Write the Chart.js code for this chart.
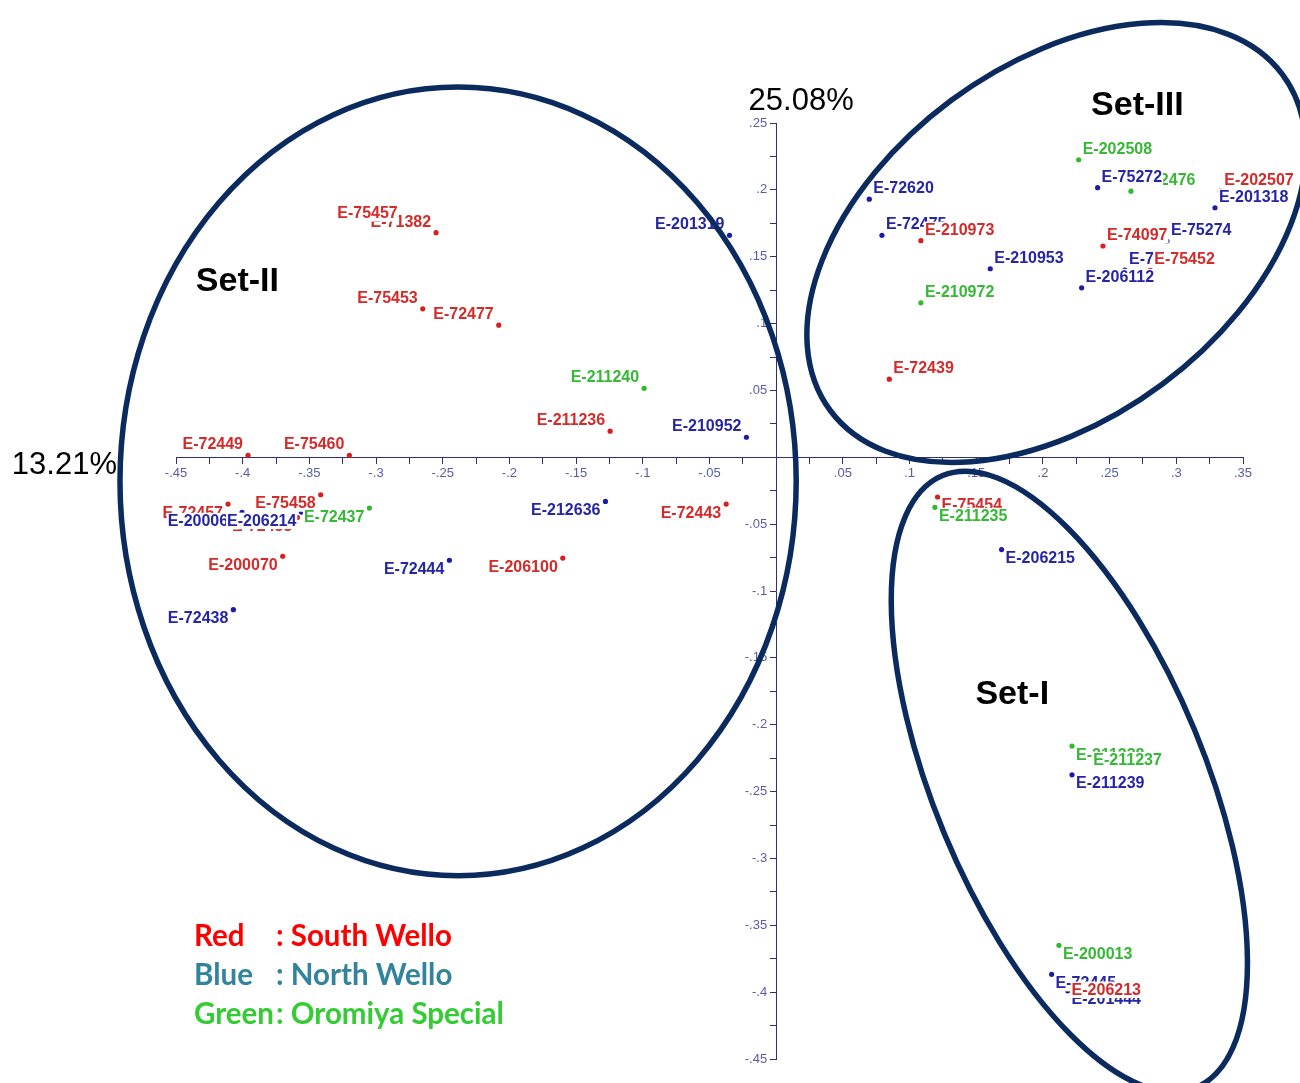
<!DOCTYPE html>
<html>
<head>
<meta charset="utf-8">
<title>Principal coordinate analysis of sorghum accessions</title>
<script src="https://cdn.jsdelivr.net/npm/chart.js@4.4.1/dist/chart.umd.min.js"></script>
<style>
  html, body { margin: 0; padding: 0; background: #ffffff; }
  #wrap { position: relative; width: 1300px; height: 1083px; }
</style>
</head>
<body>
<div id="wrap"><canvas id="pcoa"></canvas></div>
<script>
// ---- Data -------------------------------------------------------------
// Accession codes, in drawing order (later labels sit on top of earlier ones)
const accessions = [
  'E-72449', 'E-75460', 'E-71382', 'E-75457', 'E-75453', 'E-72477',
  'E-211240', 'E-211236', 'E-210952', 'E-201319',
  'E-72457', 'E-72433', 'E-200066', 'E-206214', 'E-75458', 'E-72437',
  'E-200070', 'E-72438', 'E-72444', 'E-206100', 'E-212636', 'E-72443',
  'E-72439', 'E-72620', 'E-72475', 'E-210973', 'E-210953', 'E-210972',
  'E-202508', 'E-72476', 'E-75272', 'E-74097', 'E-75274', 'E-75273',
  'E-75452', 'E-206112', 'E-202507', 'E-201318',
  'E-75454', 'E-211235', 'E-206215', 'E-211238', 'E-211237', 'E-211239',
  'E-200013', 'E-75276', 'E-201444', 'E-72445', 'E-206213'
];
// First principal coordinate (13.21 %)
const pc1 = [
  -0.396, -0.320, -0.255, -0.280, -0.265, -0.208,
  -0.099, -0.1245, -0.0223, -0.035,
  -0.411, -0.359, -0.4005, -0.356, -0.3415, -0.305,
  -0.370, -0.407, -0.245, -0.160, -0.128, -0.0375,
  0.0848, 0.0698, 0.0793, 0.1085, 0.1605, 0.1085,
  0.2268, 0.266, 0.241, 0.245, 0.293, 0.2615,
  0.2805, 0.229, 0.333, 0.329,
  0.121, 0.119, 0.169, 0.2218, 0.2348, 0.2218,
  0.212, 0.2228, 0.2185, 0.2065, 0.2185
];
// Second principal coordinate (25.08 %)
const pc2 = [
  0.0015, 0.0015, 0.168, 0.1744, 0.111, 0.0988,
  0.0516, 0.0195, 0.015, 0.166,
  -0.035, -0.045, -0.0412, -0.041, -0.028, -0.038,
  -0.074, -0.114, -0.077, -0.0754, -0.033, -0.035,
  0.0584, 0.193, 0.166, 0.162, 0.141, 0.1155,
  0.2225, 0.199, 0.2016, 0.158, 0.1617, 0.140,
  0.140, 0.1267, 0.199, 0.1866,
  -0.0297, -0.0374, -0.069, -0.216, -0.220, -0.2375,
  -0.365, -0.401, -0.399, -0.3867, -0.3917
];
// Collection zone: S = South Wello, N = North Wello, O = Oromiya Special
const zone = [
  'S', 'S', 'S', 'S', 'S', 'S',
  'O', 'S', 'N', 'N',
  'S', 'S', 'N', 'N', 'S', 'O',
  'S', 'N', 'N', 'S', 'N', 'S',
  'S', 'N', 'N', 'S', 'N', 'O',
  'O', 'O', 'N', 'S', 'N', 'N',
  'S', 'N', 'S', 'N',
  'S', 'O', 'N', 'O', 'O', 'N',
  'O', 'O', 'N', 'N', 'S'
];
const zoneCodes = ['S', 'N', 'O'];
const zoneNames = ['South Wello', 'North Wello', 'Oromiya Special'];
const zoneColourWords = ['Red', 'Blue', 'Green'];

// Axis ranges and the share of variation each coordinate explains
const xRange = [-0.45, 0.35];
const yRange = [-0.45, 0.25];
const tickStep = 0.025;
const labelStep = 0.05;
const xAxisPercent = '13.21%';
const yAxisPercent = '25.08%';

// Clusters: names, centres and semi-axes in coordinate units, tilt in degrees
const setNames = ['Set-I', 'Set-II', 'Set-III'];
const setCentreX = [0.2198, -0.2385, 0.2101];
const setCentreY = [-0.2425, -0.018, 0.1606];
const setSemiA = [0.2483, 0.2535, 0.2112];
const setSemiB = [0.1013, 0.2949, 0.1323];
const setTilt = [67.5, 0, -36.6];
const setLabelX = [0.177, -0.404, 0.2708];
const setLabelY = [-0.1774, 0.1317, 0.2627];

// ---- Styles -----------------------------------------------------------
const dotColours = { S: '#d81e1e', N: '#1b1ba8', O: '#2eba2e' };
const textColours = { S: '#d42a2a', N: '#2525a6', O: '#35b835' };
const legendColours = ['#ff0000', '#31849b', '#33cc33'];
const axisColour = '#2e2e7c';
const tickTextColour = '#5a5aa8';
const ringColour = '#0b2a5e';
const tickFont = '13px "Liberation Sans", Arial, sans-serif';

// ---- Helpers ----------------------------------------------------------
function isLabelStep(v) {
  const r = v / labelStep;
  return Math.abs(r - Math.round(r)) < 1e-6 && Math.abs(v) > 1e-9;
}
function formatTick(v) {
  if (!isLabelStep(v)) return '';
  const s = (Math.round(v * 1000) / 1000).toString();
  return s.replace('0.', '.');
}

const datasets = zoneCodes.map((code, k) => {
  const pts = [];
  accessions.forEach((name, i) => {
    if (zone[i] === code) pts.push({ x: pc1[i], y: pc2[i] });
  });
  return {
    label: zoneNames[k],
    data: pts,
    backgroundColor: dotColours[code],
    borderWidth: 0,
    pointRadius: 2.6,
    pointHoverRadius: 2.6
  };
});

// Vertical-axis numbers, set just left of the tick marks of the centred axis
const yAxisNumbers = {
  id: 'yAxisNumbers',
  beforeDatasetsDraw(chart) {
    const { ctx, scales: { x, y } } = chart;
    const left = x.getPixelForValue(0) - y.options.grid.tickLength - 3;
    ctx.save();
    ctx.font = tickFont;
    ctx.fillStyle = tickTextColour;
    ctx.textAlign = 'right';
    ctx.textBaseline = 'middle';
    y.ticks.forEach(t => {
      const s = formatTick(t.value);
      if (s) ctx.fillText(s, left, y.getPixelForValue(t.value));
    });
    ctx.restore();
  }
};

// Accession labels on white boxes, pushed away from the origin
const accessionLabels = {
  id: 'accessionLabels',
  afterDatasetsDraw(chart) {
    const { ctx, scales: { x, y } } = chart;
    ctx.save();
    ctx.font = 'bold 16px "Liberation Sans", Arial, sans-serif';
    ctx.textAlign = 'left';
    ctx.textBaseline = 'alphabetic';
    accessions.forEach((name, i) => {
      const px = x.getPixelForValue(pc1[i]);
      const py = y.getPixelForValue(pc2[i]);
      const w = ctx.measureText(name).width;
      const tx = pc1[i] >= 0 ? px + 4 : px - 5 - w;
      const base = pc2[i] >= 0 ? py - 6 : py + 13.5;
      ctx.fillStyle = '#ffffff';
      ctx.fillRect(tx - 1, base - 13, w + 2, 16.5);
      ctx.fillStyle = textColours[zone[i]];
      ctx.fillText(name, tx, base);
    });
    ctx.restore();
  }
};

// Cluster rings, cluster names, variance shares and the colour key
const annotations = {
  id: 'annotations',
  afterDraw(chart) {
    const { ctx, chartArea, scales: { x, y } } = chart;
    const x0 = x.getPixelForValue(0);
    const y0 = y.getPixelForValue(0);
    ctx.save();

    ctx.strokeStyle = ringColour;
    ctx.lineWidth = 5.5;
    setNames.forEach((n, k) => {
      const cx = x.getPixelForValue(setCentreX[k]);
      const cy = y.getPixelForValue(setCentreY[k]);
      const ra = Math.abs(x.getPixelForValue(setSemiA[k]) - x0);
      const rb = Math.abs(y.getPixelForValue(setSemiB[k]) - y0);
      ctx.beginPath();
      ctx.ellipse(cx, cy, ra, rb, setTilt[k] * Math.PI / 180, 0, Math.PI * 2);
      ctx.stroke();
    });

    ctx.fillStyle = '#000000';
    ctx.font = 'bold 34px "Liberation Sans", Arial, sans-serif';
    ctx.textAlign = 'center';
    ctx.textBaseline = 'middle';
    setNames.forEach((n, k) => {
      ctx.fillText(n, x.getPixelForValue(setLabelX[k]), y.getPixelForValue(setLabelY[k]));
    });

    ctx.font = '31px "Liberation Sans", Arial, sans-serif';
    ctx.textAlign = 'center';
    ctx.fillText(yAxisPercent, x0 + 25, chartArea.top - 22);
    ctx.textAlign = 'right';
    ctx.fillText(xAxisPercent, chartArea.left - 59, y0 + 8);

    ctx.font = 'bold 29.5px Lato, "Open Sans", sans-serif';
    ctx.textAlign = 'left';
    zoneNames.forEach((n, k) => {
      const ly = 936 + k * 39;
      ctx.fillStyle = legendColours[k];
      ctx.fillText(zoneColourWords[k], 194, ly);
      ctx.fillText(': ' + n, 276, ly);
    });
    ctx.restore();
  }
};

function axisOptions(extra, showNumbers) {
  return Object.assign({
    type: 'linear',
    grid: { drawOnChartArea: false, drawTicks: true, tickLength: 6, color: axisColour, tickColor: axisColour },
    border: { display: true, color: axisColour, width: 1 },
    ticks: {
      display: showNumbers,
      stepSize: tickStep, autoSkip: false, maxRotation: 0, minRotation: 0,
      color: tickTextColour, padding: 2,
      font: { family: '"Liberation Sans", Arial, sans-serif', size: 13 },
      callback: formatTick
    }
  }, extra);
}

new Chart(document.getElementById('pcoa'), {
  type: 'scatter',
  data: { datasets },
  options: {
    responsive: true,
    maintainAspectRatio: false,
    animation: false,
    events: [],
    layout: { padding: { left: 176, right: 57, top: 123, bottom: 24 } },
    plugins: { legend: { display: false }, tooltip: { enabled: false } },
    scales: {
      x: axisOptions({ position: { y: 0 }, min: xRange[0], max: xRange[1] }, true),
      y: axisOptions({ position: { x: 0 }, min: yRange[0], max: yRange[1] }, false)
    }
  },
  plugins: [yAxisNumbers, accessionLabels, annotations]
});
</script>
</body>
</html>
